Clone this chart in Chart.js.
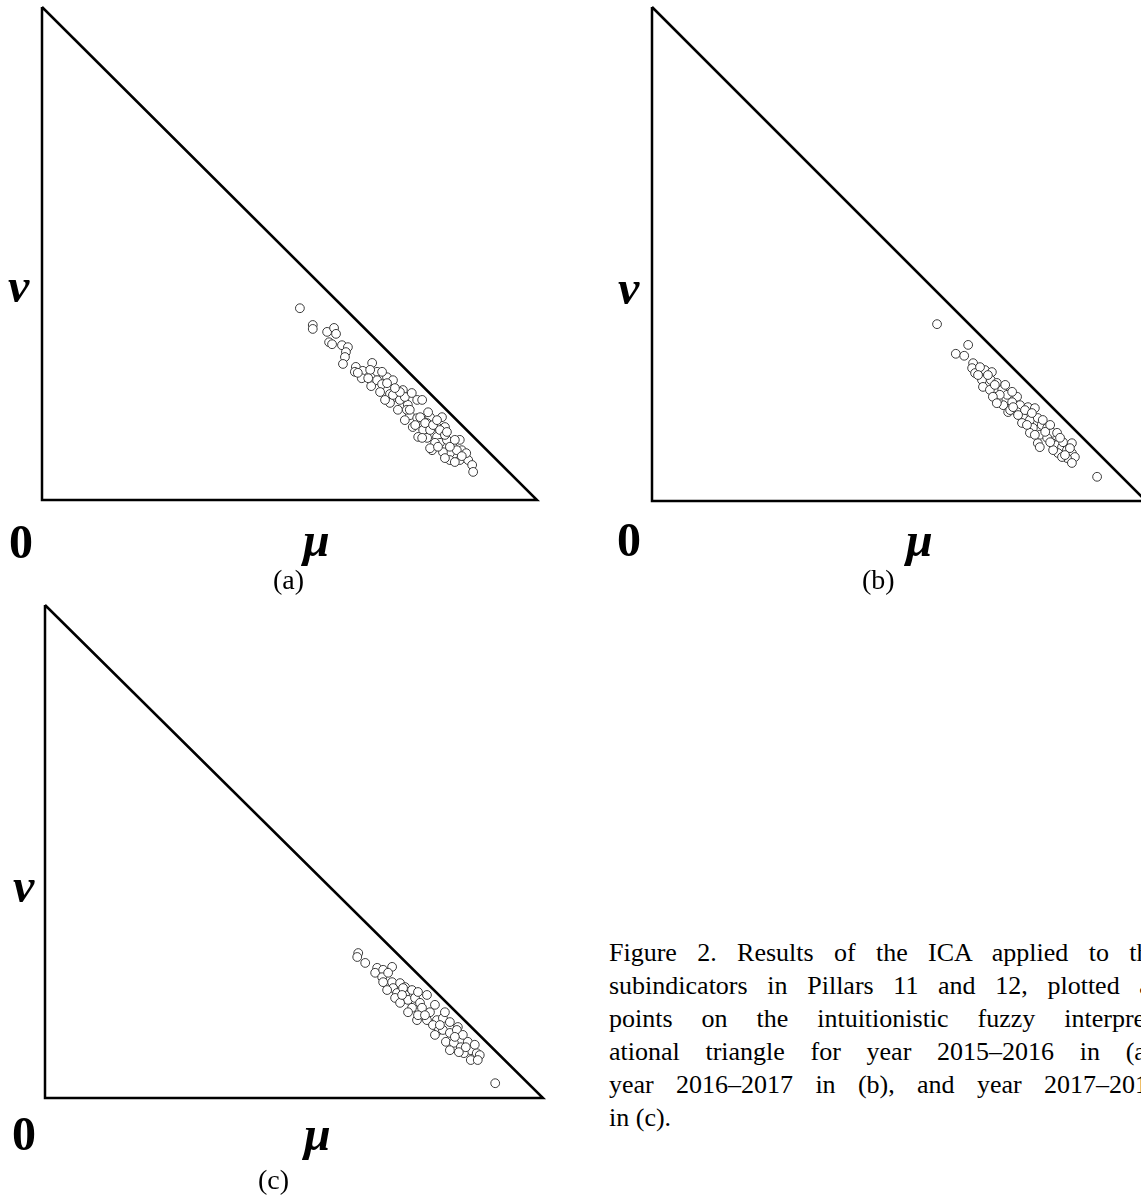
<!DOCTYPE html>
<html><head><meta charset="utf-8">
<script src="https://cdn.jsdelivr.net/npm/chart.js@4"></script>
<style>
html,body{margin:0;padding:0;background:#fff;}
body{width:1141px;height:1200px;overflow:hidden;position:relative;}
canvas{position:absolute;}
.lbl{position:absolute;font-family:"Liberation Serif","Times New Roman",serif;line-height:1;white-space:nowrap;color:#000;}
.sym{font-size:48px;font-weight:bold;font-style:italic;}
.zero{font-size:48px;font-weight:bold;}
.sub{font-size:28px;}
.cap{position:absolute;left:609px;top:936px;width:552px;font-family:"Liberation Serif","Times New Roman",serif;font-size:26px;line-height:33px;color:#000;}
.cap div{text-align:justify;text-align-last:justify;white-space:nowrap;}
.cap div.last{text-align-last:left;}
</style>
</head><body>
<canvas id="ca" width="560" height="520" style="left:0px;top:0px;width:560px;height:520px"></canvas>
<canvas id="cb" width="560" height="520" style="left:610px;top:0px;width:560px;height:520px"></canvas>
<canvas id="cc" width="560" height="530" style="left:0px;top:590px;width:560px;height:530px"></canvas>

<div class="lbl sym" style="left:8px;top:262px">ν</div>
<div class="lbl zero" style="left:9px;top:518px">0</div>
<div class="lbl sym" style="left:303px;top:516px">μ</div>
<div class="lbl sub" style="left:273px;top:566px">(a)</div>

<div class="lbl sym" style="left:618px;top:264px">ν</div>
<div class="lbl zero" style="left:617px;top:516px">0</div>
<div class="lbl sym" style="left:906px;top:516px">μ</div>
<div class="lbl sub" style="left:862px;top:566px">(b)</div>

<div class="lbl sym" style="left:13px;top:862px">ν</div>
<div class="lbl zero" style="left:12px;top:1110px">0</div>
<div class="lbl sym" style="left:304px;top:1110px">μ</div>
<div class="lbl sub" style="left:258px;top:1166px">(c)</div>

<div class="cap" id="cap"></div>

<script>
// ---- data ----
const triMu = [0, 0, 1, 0];
const triNu = [1, 0, 0, 1];

const muA = [0.521,0.547,0.547,0.576,0.590,0.594,0.580,0.586,0.606,0.618,
0.614,0.612,0.608,0.634,0.648,0.667,0.677,0.646,0.665,0.677,
0.687,0.697,0.709,0.663,0.703,0.713,0.729,0.703,0.723,0.739,
0.758,0.768,0.719,0.743,0.758,0.749,0.770,0.784,0.808,0.814,
0.778,0.798,0.788,0.804,0.818,0.830,0.844,0.824,0.810,0.848,
0.824,0.844,0.861,0.869,0.871,0.794,0.760,0.737,0.778,0.798,
0.709,0.733,0.743,0.764,0.774,0.784,0.768,0.784,0.838,0.824,
0.697,0.723,0.632,0.683,0.857,0.834,0.804,0.814,
0.693,0.713,0.747,0.733,0.754,0.790,0.780,0.798,0.818,0.834,
0.800,0.848,0.814,0.659,0.687,0.638];
const nuA = [0.389,0.355,0.347,0.341,0.349,0.337,0.320,0.316,0.314,0.310,
0.300,0.290,0.276,0.270,0.262,0.278,0.260,0.247,0.231,0.243,
0.235,0.249,0.243,0.264,0.215,0.209,0.223,0.197,0.203,0.193,
0.203,0.203,0.183,0.172,0.166,0.148,0.142,0.168,0.168,0.148,
0.126,0.128,0.101,0.116,0.122,0.108,0.122,0.095,0.097,0.101,
0.081,0.081,0.081,0.071,0.057,0.116,0.128,0.183,0.156,0.148,
0.213,0.209,0.183,0.168,0.156,0.142,0.126,0.105,0.101,0.108,
0.237,0.219,0.260,0.219,0.095,0.077,0.142,0.132,
0.203,0.227,0.217,0.162,0.152,0.152,0.178,0.162,0.138,0.122,
0.108,0.089,0.085,0.247,0.260,0.258];

const muB = [0.577,0.640,0.615,0.632,0.650,0.648,0.654,0.674,0.688,0.668,
0.686,0.670,0.698,0.684,0.709,0.694,0.719,0.739,0.711,0.729,
0.745,0.721,0.739,0.761,0.775,0.751,0.765,0.749,0.781,0.789,
0.771,0.765,0.800,0.810,0.820,0.785,0.781,0.785,0.810,0.820,
0.830,0.850,0.840,0.822,0.850,0.856,0.840,0.850,0.901,0.700,
0.725,0.759,0.775,0.800,0.812,0.830,0.680,0.704,0.731,0.755,
0.690,0.664,0.698,0.769,0.791,0.806,0.832,0.846,
0.660,0.694,0.715,0.741,0.796,0.826,0.836,0.806,0.729];
const nuB = [0.358,0.316,0.298,0.294,0.279,0.269,0.259,0.265,0.261,0.245,
0.245,0.231,0.239,0.225,0.225,0.211,0.215,0.211,0.194,0.200,
0.194,0.180,0.180,0.190,0.188,0.170,0.164,0.158,0.168,0.154,
0.148,0.138,0.148,0.138,0.138,0.134,0.117,0.109,0.117,0.113,
0.109,0.117,0.103,0.097,0.097,0.089,0.087,0.077,0.049,0.204,
0.184,0.154,0.134,0.128,0.103,0.089,0.255,0.215,0.190,0.184,
0.211,0.271,0.198,0.178,0.164,0.119,0.119,0.107,
0.255,0.235,0.235,0.174,0.140,0.128,0.093,0.154,0.221];

const muC = [0.629,0.627,0.643,0.667,0.663,0.679,0.697,0.677,0.679,0.697,
0.713,0.699,0.687,0.723,0.737,0.707,0.723,0.703,0.729,0.743,
0.767,0.713,0.753,0.737,0.757,0.773,0.729,0.747,0.767,0.787,
0.799,0.813,0.779,0.829,0.749,0.719,0.689,
0.791,0.799,0.813,0.827,0.805,0.821,0.835,0.849,0.855,0.841,
0.867,0.873,0.855,0.813,0.831,0.904,0.839,0.783,0.863,
0.717,0.749,0.783,0.763,0.793,0.823,0.845,0.803,0.869];
const nuC = [0.294,0.286,0.274,0.264,0.254,0.260,0.266,0.245,0.235,0.235,
0.233,0.223,0.219,0.225,0.219,0.213,0.209,0.203,0.199,0.203,
0.209,0.193,0.193,0.183,0.183,0.174,0.174,0.158,0.158,0.158,
0.162,0.154,0.148,0.144,0.168,0.223,0.254,
0.138,0.138,0.132,0.138,0.114,0.112,0.103,0.114,0.097,0.091,
0.091,0.087,0.077,0.097,0.093,0.030,0.128,0.128,0.108,
0.209,0.215,0.189,0.168,0.148,0.124,0.103,0.174,0.077];

const captionLines = [
  "Figure 2. Results of the ICA applied to the",
  "subindicators in Pillars 11 and 12, plotted as",
  "points on the intuitionistic fuzzy interpret-",
  "ational triangle for year 2015–2016 in (a),",
  "year 2016–2017 in (b), and year 2017–2018",
  "in (c)."
];

// ---- caption ----
const cap = document.getElementById('cap');
captionLines.forEach((t, i) => {
  const d = document.createElement('div');
  d.textContent = t;
  if (i === captionLines.length - 1) d.className = 'last';
  cap.appendChild(d);
});

// ---- charts ----
function pts(xs, ys) { return xs.map((x, i) => ({x: x, y: ys[i]})); }

function makeChart(id, mu, nu, pad) {
  new Chart(document.getElementById(id), {
    type: 'scatter',
    data: {
      datasets: [
        {
          data: pts(mu, nu),
          pointRadius: 4.4,
          pointBorderWidth: 1,
          pointBorderColor: '#3a3a3a',
          pointBackgroundColor: '#ffffff',
          showLine: false,
          clip: false,
          order: 0
        },
        {
          data: pts(triMu, triNu),
          showLine: true,
          pointRadius: 0,
          borderColor: '#000000',
          borderWidth: 2.5,
          borderJoinStyle: 'miter',
          fill: false,
          tension: 0,
          clip: false,
          order: 1
        }
      ]
    },
    options: {
      responsive: false,
      animation: false,
      events: [],
      layout: { padding: pad },
      plugins: { legend: { display: false }, tooltip: { enabled: false } },
      scales: {
        x: { type: 'linear', min: 0, max: 1, display: false },
        y: { type: 'linear', min: 0, max: 1, display: false }
      }
    }
  });
}

makeChart('ca', muA, nuA, {left: 42, top: 7, right: 23, bottom: 20});
makeChart('cb', muB, nuB, {left: 42, top: 7, right: 24, bottom: 19});
makeChart('cc', muC, nuC, {left: 45, top: 15, right: 17, bottom: 22});
</script>
</body></html>
